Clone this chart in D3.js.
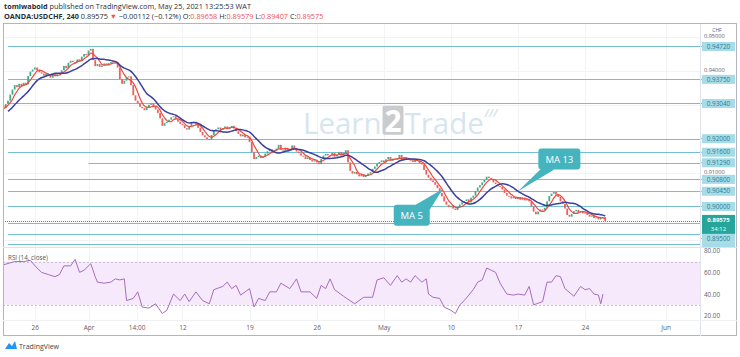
<!DOCTYPE html>
<html><head><meta charset="utf-8">
<script src="https://cdn.jsdelivr.net/npm/d3@7"></script>
<style>
html,body{margin:0;padding:0;background:#fff;}
svg text{font-family:"Open Sans","Noto Sans",sans-serif;}
</style></head>
<body><svg id="c" width="740" height="357"></svg>
<script>
// ---------- DATA ----------
// 4-hour closes, first value is candle index -12 (history before the visible range)
const firstIndex = -12;
const closes = [
 0.9255,0.9262,0.9258,0.9270,0.9265,0.9278,0.9285,0.9280,0.9292,0.9298,0.9290,0.9302,
 0.9312,0.9330,0.9345,0.9358,0.9352,0.9362,
 0.9355,0.9365,0.9360,0.9385,0.9398,0.9404,
 0.9410,0.9402,0.9396,0.9392,0.9386,0.9392,
 0.9388,0.9380,0.9391,0.9384,0.9390,0.9394,
 0.9402,0.9415,0.9408,0.9424,0.9430,0.9426,
 0.9424,0.9434,0.9429,0.9442,0.9450,0.9446,
 0.9460,0.9465,0.9432,0.9414,0.9420,0.9412,
 0.9416,0.9422,0.9417,0.9423,0.9426,0.9428,
 0.9425,0.9410,0.9376,0.9362,0.9371,0.9382,
 0.9384,0.9358,0.9328,0.9312,0.9304,0.9294,
 0.9290,0.9284,0.9293,0.9300,0.9304,0.9296,
 0.9286,0.9276,0.9260,0.9238,0.9246,0.9250,
 0.9256,0.9263,0.9266,0.9257,0.9250,0.9244,
 0.9240,0.9231,0.9227,0.9238,0.9246,0.9250,
 0.9244,0.9232,0.9220,0.9210,0.9204,0.9199,
 0.9198,0.9211,0.9225,0.9228,0.9233,0.9226,
 0.9231,0.9236,0.9228,0.9234,0.9238,0.9230,
 0.9222,0.9214,0.9207,0.9212,0.9204,0.9206,
 0.9190,0.9160,0.9140,0.9146,0.9150,0.9143,
 0.9148,0.9156,0.9163,0.9169,0.9162,0.9166,
 0.9171,0.9182,0.9168,0.9165,0.9173,0.9166,
 0.9168,0.9180,0.9170,0.9162,0.9157,0.9150,
 0.9148,0.9140,0.9145,0.9137,0.9133,0.9136,
 0.9130,0.9125,0.9140,0.9150,0.9155,0.9151,
 0.9150,0.9158,0.9147,0.9153,0.9161,0.9150,
 0.9158,0.9166,0.9130,0.9105,0.9097,0.9102,
 0.9095,0.9089,0.9094,0.9087,0.9092,0.9097,
 0.9101,0.9111,0.9118,0.9126,0.9131,0.9136,
 0.9130,0.9139,0.9146,0.9135,0.9141,0.9138,
 0.9143,0.9152,0.9136,0.9145,0.9140,0.9138,
 0.9136,0.9131,0.9139,0.9135,0.9128,0.9124,
 0.9108,0.9094,0.9085,0.9077,0.9072,0.9064,
 0.9054,0.9040,0.9030,0.9015,0.9005,0.8998,
 0.9002,0.8994,0.8990,0.8998,0.9006,0.9012,
 0.9016,0.9021,0.9012,0.9026,0.9032,0.9046,
 0.9056,0.9063,0.9071,0.9079,0.9088,0.9084,
 0.9080,0.9071,0.9066,0.9060,0.9058,0.9050,
 0.9040,0.9032,0.9030,0.9024,0.9028,0.9022,
 0.9028,0.9020,0.9026,0.9018,0.9022,0.9015,
 0.9000,0.8985,0.8977,0.8985,0.8991,0.8988,
 0.8996,0.9015,0.9031,0.9038,0.9043,0.9035,
 0.9028,0.9015,0.9008,0.8994,0.8975,0.8970,
 0.8978,0.8986,0.8990,0.8982,0.8987,0.8980,
 0.8982,0.8975,0.8970,0.8973,0.8966,0.8968,
 0.8962,0.8966,0.89687,0.89575
];
// RSI(14): candle index / value
const rsiIndex = [-2,3,7,10,13,15,18,21,23,25,28,30,32,34,37,39,40,43,46,48,50,52,53,56,58,60,63,66,69,71,74,77,79,81,84,87,90,92,96,98,100,102,104,106,108,110,112,115,117,120,122,126,129,131,135,138,140,142,144,146,150,155,159,163,165,168,171,174,176,178,180,182,185,187,188,190,193,195,198,200,202,204,206,208,210,212,214,216,218,220,223,226,228,231,233,235,239,241,243,245,247,249,253,256,258,260,262,264,265,266];
const rsiValue = [67,70,70,71,64,60,58,56,58,66,66,72,60,62,68,56,51,50,51,54,53,54,34,36,42,28,27,31,22,25,40,34,40,33,42,34,31,44,47,51,45,48,39,42,45,28,36,34,42,42,50,45,54,42,42,36,48,45,54,44,38,31,37,37,53,55,48,57,51,54,51,57,51,54,40,37,36,28,25,22,30,34,39,44,51,53,64,62,60,50,40,39,40,39,47,30,33,51,51,57,56,45,38,47,44,45,40,39,31,40];
// horizontal levels drawn on the chart
const levels = [0.9472,0.9375,0.9304,0.9200,0.9160,0.9129,0.9080,0.9045,0.9000,0.8950,0.8920,0.8888];
const levelStart = [0,0,0,0,0,36,0,0,0,0,0,0]; // candle index where each level begins
const priceTicks = [0.95,0.94,0.93,0.92,0.91,0.90,0.89];
const rsiTicks = [20,40,60,80];
const timeTickIndex = [12,36,57.5,78,108,138,168,198,228,258,294];
const timeTickLabel = ["26","Apr","14:00","12","19","26","May","10","17","24","Jun"];
const lastPrice = 0.89575, countdown = "34:12";

// ---------- LAYOUT ----------
const svg = d3.select("#c");
const L = 3, R = 700, FR = 737, PT = 24, PB = 247, RT = 247, RB = 320, FB = 336;
const x = d3.scaleLinear().domain([0, 294]).range([8, 665.6]);
const y = d3.scaleLinear().domain([0.95, 0.89]).range([37, 240.4]);
const yr = d3.scaleLinear().domain([20, 80]).range([315.7, 250.7]);

const defs = svg.append("defs");
defs.append("clipPath").attr("id","pc").append("rect").attr("x",L).attr("y",PT).attr("width",R-L).attr("height",PB-PT);
defs.append("clipPath").attr("id","rc").append("rect").attr("x",L).attr("y",RT).attr("width",R-L).attr("height",RB-RT);
defs.append("clipPath").attr("id","ac").append("rect").attr("x",R).attr("y",PT).attr("width",FR-R).attr("height",PB-PT);

// header
const h1 = svg.append("text").attr("x",4).attr("y",9).attr("font-size",7.3).attr("fill","#2a2e39");
h1.append("tspan").attr("font-weight","bold").text("tomiwabold");
h1.append("tspan").text(" published on TradingView.com, May 25, 2021 13:25:53 WAT");
const h2 = svg.append("text").attr("x",4).attr("y",19).attr("font-size",7.3).attr("fill","#2a2e39");
h2.append("tspan").attr("font-weight","bold").text("OANDA:USDCHF, 240");
h2.append("tspan").text(" 0.89575 ");
h2.append("tspan").attr("fill","#ef5350").text("▼");
h2.append("tspan").text(" −0.00112 (−0.12%) O:");
h2.append("tspan").attr("fill","#ef5350").text("0.89658");
h2.append("tspan").text(" H:");
h2.append("tspan").attr("fill","#ef5350").text("0.89579");
h2.append("tspan").text(" L:");
h2.append("tspan").attr("fill","#ef5350").text("0.89407");
h2.append("tspan").text(" C:");
h2.append("tspan").attr("fill","#ef5350").text("0.89575");

// grid
const grid = svg.append("g").attr("stroke","#f2f3f6").attr("stroke-width",1);
timeTickIndex.forEach(t=>{
  grid.append("line").attr("x1",Math.round(x(t))+0.5).attr("x2",Math.round(x(t))+0.5).attr("y1",PT).attr("y2",RB);
});
priceTicks.forEach(p=>{
  grid.append("line").attr("x1",L).attr("x2",R).attr("y1",Math.round(y(p))+0.5).attr("y2",Math.round(y(p))+0.5);
});

// watermark
const wm = svg.append("g").attr("clip-path","url(#pc)");
const wmBase = y(0.9210) - 1.5;
const t1 = wm.append("text").attr("x",303).attr("y",wmBase).attr("font-size",29.5).attr("fill","#d6e6ef").text("Learn");
const w1 = t1.node().getComputedTextLength();
const bx = 303 + w1 + 1;
wm.append("rect").attr("x",bx).attr("y",wmBase-28).attr("width",21).attr("height",29).attr("rx",2).attr("fill","#c9cccf");
wm.append("text").attr("x",bx+10.5).attr("y",wmBase-2).attr("font-size",30).attr("font-weight","bold").attr("fill","#fff").attr("text-anchor","middle").text("2");
const t3 = wm.append("text").attr("x",bx+22).attr("y",wmBase).attr("font-size",29.5).attr("fill","#d6e6ef").text("Trade");
const w3 = t3.node().getComputedTextLength();
wm.append("text").attr("x",bx+22+w3+1).attr("y",wmBase-17).attr("font-size",10).attr("font-weight","bold").attr("font-style","italic").attr("fill","#d3e4ee").text("///");

// RSI pane background band
const rg = svg.append("g").attr("clip-path","url(#rc)");
rg.append("rect").attr("x",L).attr("width",R-L).attr("y",yr(70)).attr("height",yr(30)-yr(70)).attr("fill","#f5e9fb");
[70,30].forEach(v=>rg.append("line").attr("x1",L).attr("x2",R).attr("y1",Math.round(yr(v))+0.5).attr("y2",Math.round(yr(v))+0.5)
  .attr("stroke","#c9c2cf").attr("stroke-dasharray","2,2"));
const rsiPts = rsiIndex.map((d,k)=>[d, rsiValue[k]]);
rg.append("path").attr("d", d3.line().x(d=>x(d[0])).y(d=>yr(d[1]))(rsiPts)).attr("fill","none").attr("stroke","#a86cc1").attr("stroke-width",1);
svg.append("text").attr("x",8).attr("y",260).attr("font-size",6.3).attr("fill","#555").text("RSI (14, close)");

// price pane: levels
const pg = svg.append("g").attr("clip-path","url(#pc)");
levels.forEach((p,k)=>{
  pg.append("line").attr("x1",x(levelStart[k])).attr("x2",R).attr("y1",Math.round(y(p))+0.5).attr("y2",Math.round(y(p))+0.5)
    .attr("stroke","#74bfd1").attr("stroke-width",1);
});
// current price line
pg.append("line").attr("x1",L).attr("x2",R).attr("y1",Math.round(y(lastPrice))+0.5).attr("y2",Math.round(y(lastPrice))+0.5)
  .attr("stroke","#26a69a").attr("stroke-width",1).attr("stroke-dasharray","1,1");

// candles
const candles = closes.map((c,k)=>({i:k+firstIndex, o: k ? closes[k-1] : c, c}));
pg.selectAll("rect.cd").data(candles).join("rect").attr("class","cd")
  .attr("x",d=>x(d.i)-0.9).attr("width",1.8)
  .attr("y",d=>y(Math.max(d.o,d.c))).attr("height",d=>Math.max(1, Math.abs(y(d.o)-y(d.c))))
  .attr("fill",d=>d.c>=d.o ? "#3fae8c" : "#f0605a");

// moving averages
function sma(n){ const out=[]; for(let k=n-1;k<closes.length;k++){ out.push([k+firstIndex, d3.mean(closes.slice(k-n+1,k+1))]); } return out; }
const ma5 = sma(5), ma13 = sma(13);
const ln = d3.line().x(d=>x(d[0])).y(d=>y(d[1])).curve(d3.curveMonotoneX);
pg.append("path").attr("d",ln(ma5)).attr("fill","none").attr("stroke","#f0493e").attr("stroke-width",1.2);
pg.append("path").attr("d",ln(ma13)).attr("fill","none").attr("stroke","#3c3f9e").attr("stroke-width",1.5);

// callouts
function callout(label, cx, cy, tip, side){
  const g = pg.append("g");
  const w = label.length>4 ? 42 : 36, h = 21;
  const x0 = cx - w/2, y0 = cy - h/2;
  let tri;
  if(side==="bl") tri = [[x0+4,y0+h-2],[x0+16,y0+h],tip];
  else tri = [[x0+w-14,y0],[x0+w,y0+5],tip];
  g.append("path").attr("d","M"+tri.map(p=>p.join(",")).join("L")+"Z").attr("fill","#45b4bf");
  g.append("rect").attr("x",x0).attr("y",y0).attr("width",w).attr("height",h).attr("rx",3).attr("fill","#45b4bf");
  g.append("text").attr("x",cx).attr("y",cy+3.5).attr("text-anchor","middle").attr("font-size",9.5).attr("fill","#fff").text(label);
}
callout("MA 13", x(246.5), y(0.9140), [x(228), y(ma13.find(d=>d[0]===228)[1])], "bl");
callout("MA 5", x(180.5), y(0.8974), [x(194.5), y(ma5.find(d=>d[0]===194)[1])], "tr");

// price axis: level label positions (push below current-price tag)
const ax = svg.append("g").attr("clip-path","url(#ac)");
const curTop = y(lastPrice)-6, curBot = y(lastPrice)+13;
let prevBottom = -Infinity;
const labelPos = levels.map(p=>{
  let cy = y(p);
  if (cy+4.5 > curTop && cy-4.5 < curBot) cy = curBot + 4.5;
  if (cy-4.5 < prevBottom) cy = prevBottom + 4.5;
  prevBottom = cy + 4.5;
  return cy;
});
const occupied = labelPos.concat([y(lastPrice)+3.5]);
// grey scale ticks, only where no level tag covers them
priceTicks.forEach(p=>{
  const cy = y(p);
  if (occupied.some(o=>Math.abs(o-cy) < 6) || cy > PB-4) return;
  ax.append("text").attr("x",704).attr("y",cy+1.2).attr("font-size",5.6).attr("fill","#5d606b").text(d3.format(".5f")(p));
});
ax.append("text").attr("x",717).attr("y",31.5).attr("font-size",5).attr("fill","#5d606b").attr("text-anchor","middle").text("CHF");
levels.forEach((p,k)=>{
  const cy = labelPos[k];
  if (cy - 4.5 > PB) return;
  ax.append("line").attr("x1",R).attr("x2",702).attr("y1",cy).attr("y2",cy).attr("stroke","#74bfd1");
  ax.append("rect").attr("x",702).attr("y",cy-4.5).attr("width",33).attr("height",9).attr("fill","#a6dbe7");
  if (cy + 3 < PB) ax.append("text").attr("x",718.5).attr("y",cy+2.2).attr("font-size",6.3).attr("fill","#2b7d91").attr("text-anchor","middle").text(d3.format(".5f")(p));
});
ax.append("rect").attr("x",702).attr("y",curTop).attr("width",33).attr("height",curBot-curTop).attr("fill","#26a69a");
ax.append("text").attr("x",718.5).attr("y",y(lastPrice)+1).attr("font-size",6).attr("fill","#fff").attr("text-anchor","middle").attr("font-weight","bold").text(d3.format(".5f")(lastPrice));
ax.append("text").attr("x",718.5).attr("y",y(lastPrice)+10.5).attr("font-size",6).attr("fill","#e6fffb").attr("text-anchor","middle").text(countdown);

// RSI axis
const rax = d3.axisRight(yr).tickValues(rsiTicks).tickFormat(d3.format(".2f")).tickSize(0).tickPadding(0);
const rg2 = svg.append("g").attr("transform","translate(704,0)").call(rax);
rg2.select(".domain").remove();
rg2.selectAll("text").attr("font-size",6.3).attr("fill","#5d606b").attr("font-family","Open Sans, sans-serif");

// time axis
const tax = d3.axisBottom(x).tickValues(timeTickIndex).tickFormat((d,k)=>timeTickLabel[k]).tickSize(0).tickPadding(0);
const tg = svg.append("g").attr("transform","translate(0,325)").call(tax);
tg.select(".domain").remove();
tg.selectAll("text").attr("font-size",6.5).attr("fill","#5d606b").attr("font-family","Open Sans, sans-serif");

// frame & dividers
const fr = svg.append("g").attr("fill","none").attr("stroke","#b2b5be").attr("stroke-width",1);
fr.append("rect").attr("x",L+0.5).attr("y",PT-0.5).attr("width",FR-L-1).attr("height",FB-PT);
fr.append("line").attr("x1",R+0.5).attr("x2",R+0.5).attr("y1",PT).attr("y2",FB).attr("stroke","#e0e3eb");
fr.append("line").attr("x1",L).attr("x2",FR).attr("y1",PB+0.5).attr("y2",PB+0.5).attr("stroke","#e0e3eb");
fr.append("line").attr("x1",L).attr("x2",FR).attr("y1",RB+0.5).attr("y2",RB+0.5).attr("stroke","#eef0f4");

// footer logo
const lg = svg.append("g");
lg.append("path").attr("d","M5,349 L9,343 L12,346 L15,341 L17,349 Z").attr("fill","#2196f3");
lg.append("text").attr("x",19).attr("y",349).attr("font-size",7).attr("fill","#444").text("TradingView");
</script></body></html>
